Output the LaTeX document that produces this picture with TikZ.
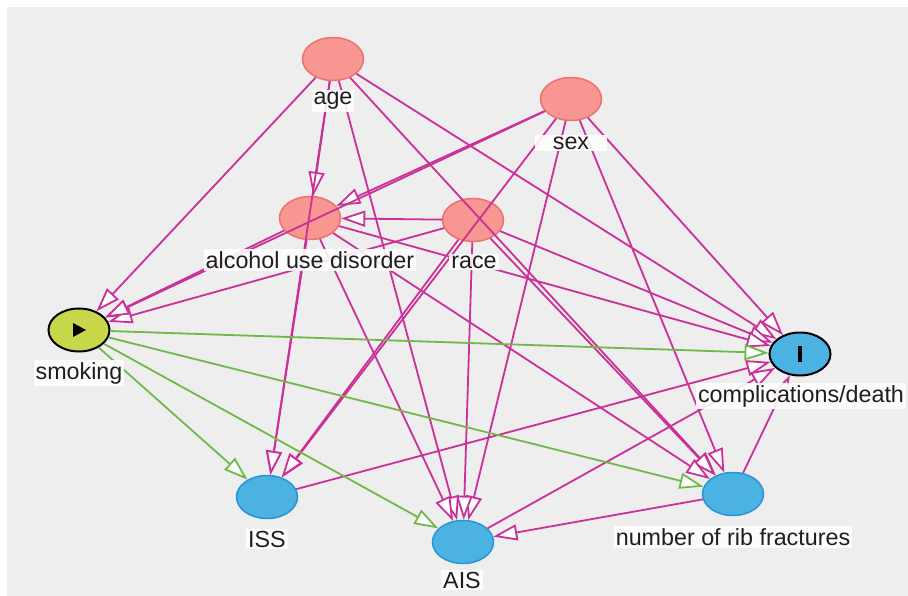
\documentclass[tikz,border=0pt]{standalone}
\usepackage{fontspec}
\setmainfont{Liberation Sans}
\usetikzlibrary{shapes.geometric,arrows.meta}
\definecolor{bg}{RGB}{238,238,238}
\definecolor{ancfill}{RGB}{248,150,145}
\definecolor{ancdraw}{RGB}{238,112,112}
\definecolor{outfill}{RGB}{76,178,226}
\definecolor{outdraw}{RGB}{38,150,212}
\definecolor{expfill}{RGB}{200,214,74}
\definecolor{biasedge}{RGB}{202,48,152}
\definecolor{causedge}{RGB}{112,184,72}
\definecolor{labeltext}{RGB}{30,30,30}
\begin{document}
\begin{tikzpicture}[x=1pt,y=-1pt,
  vnode/.style={ellipse, minimum width=61pt, minimum height=43pt, inner sep=0pt, line width=1.5pt},
  ancnode/.style={vnode, fill=ancfill, draw=ancdraw},
  outnode/.style={vnode, fill=outfill, draw=outdraw},
  keynode/.style={vnode, draw=black, line width=2pt},
  vlabel/.style={fill=white, fill opacity=0.88, text opacity=1, text=labeltext, inner xsep=2pt, inner ysep=2pt, font=\fontsize{23.3}{26}\selectfont},
  bias/.style={draw=biasedge, line width=1.8pt, -{Triangle[length=24pt, width=16pt, fill=white]}},
  cause/.style={draw=causedge, line width=1.8pt, -{Triangle[length=24pt, width=16pt, fill=white]}},
]
\useasboundingbox (0,0) rectangle (908,596);
\fill[bg] (7,7) rectangle (908,596);

% nodes
\node[ancnode] (age) at (333,59) {};
\node[ancnode] (sex) at (571,99) {};
\node[ancnode] (alc) at (310,218) {};
\node[ancnode] (race) at (473,220) {};
\node[keynode, fill=expfill] (smk) at (79,330) {};
\node[keynode, fill=outfill] (cd) at (800,354) {};
\node[outnode] (iss) at (267,497) {};
\node[outnode] (ais) at (463,542) {};
\node[outnode] (rib) at (733,494) {};

% symbols
\fill[black] ([shift={(-6,-7)}]smk.center) -- ([shift={(-6,7)}]smk.center) -- ([shift={(7,0)}]smk.center) -- cycle;
\fill[black] ([shift={(-2,-8)}]cd.center) rectangle ([shift={(2,8)}]cd.center);

% biasing edges
\foreach \t in {smk,alc,iss,ais,rib,cd} \draw[bias] (age) -- (\t);
\foreach \t in {alc,smk,iss,ais,rib,cd} \draw[bias] (sex) -- (\t);
\foreach \t in {alc,smk,iss,ais,rib,cd} \draw[bias] (race) -- (\t);
\foreach \t in {smk,iss,ais,rib,cd} \draw[bias] (alc) -- (\t);
\draw[bias] (iss) -- (cd);
\draw[bias] (ais) -- (cd);
\draw[bias] (rib) -- (cd);
\draw[bias] (rib) -- (ais);

% causal edges
\foreach \t in {iss,ais,rib,cd} \draw[cause] (smk) -- (\t);

% labels
\node[vlabel] (lage) at (333,101) {age};
\node[vlabel, minimum width=72pt] (lsex) at (571,143) {sex};
\node[vlabel] (lalc) at (310,260) {alcohol use disorder};
\node[vlabel] (lrace) at (474,262) {race};
\node[vlabel] (lsmk) at (79,373) {smoking};
\node[vlabel] (liss) at (267,539) {ISS};
\node[vlabel] (lais) at (462,580) {AIS};
\node[vlabel] (lrib) at (733,537) {number of rib fractures};
\node[vlabel] (lcd) at (801,396) {complications/death};
\end{tikzpicture}
\end{document}
